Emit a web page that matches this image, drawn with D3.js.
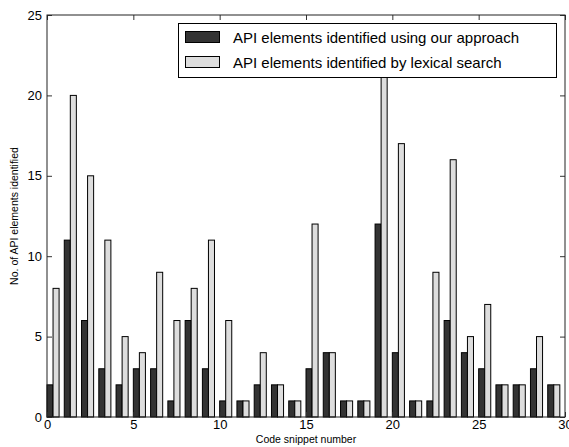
<!DOCTYPE html>
<html>
<head>
<meta charset="utf-8">
<script src="https://cdn.jsdelivr.net/npm/d3@7"></script>
<style>
body{margin:0;background:#fff;}
svg{display:block;font-family:"Liberation Sans",Arial,Helvetica,sans-serif;}
</style>
</head>
<body>
<svg id="chart" width="569" height="447"></svg>
<script>
const snippets = d3.range(30);
const ourApproach = [2,11,6,3,2,3,3,1,6,3,1,1,2,2,1,3,4,1,1,12,4,1,1,6,4,3,2,2,3,2];
const lexicalSearch = [8,20,15,11,5,4,9,6,8,11,6,1,4,2,1,12,4,1,1,23,17,1,9,16,5,7,2,2,5,2];
const seriesNames = ["API elements identified using our approach","API elements identified by lexical search"];
const xTicks = [0,5,10,15,20,25,30];
const yTicks = [0,5,10,15,20,25];

const svg = d3.select("#chart");
const L = 47, R = 565, T = 15, B = 417;
const x = d3.scaleLinear().domain([0,30]).range([L,R]);
const y = d3.scaleLinear().domain([0,25]).range([B,T]);
const barW = 0.35;
const colors = ["#333333","#dddddd"];

const g = svg.append("g");
[ourApproach, lexicalSearch].forEach((vals, s) => {
  g.selectAll(null).data(snippets).enter().append("rect")
    .attr("x", d => x(d + s*barW))
    .attr("width", x(barW) - x(0))
    .attr("y", d => y(vals[d]))
    .attr("height", d => y(0) - y(vals[d]))
    .attr("fill", colors[s])
    .attr("stroke", "#000")
    .attr("stroke-width", 1);
});

// axes
const tl = 5;
svg.append("g").attr("transform",`translate(0,${B})`)
  .call(d3.axisBottom(x).tickValues(xTicks).tickSize(-tl).tickPadding(3).tickFormat(d3.format("d")))
  .call(a=>{a.select(".domain").remove();a.selectAll("text").attr("font-size",13).attr("font-family","Liberation Sans, Arial, sans-serif");a.selectAll("line").attr("stroke","#333");});
svg.append("g").attr("transform",`translate(0,${T})`)
  .call(d3.axisTop(x).tickValues(xTicks).tickSize(-tl).tickFormat(""))
  .call(a=>{a.select(".domain").remove();a.selectAll("line").attr("stroke","#333");});
svg.append("g").attr("transform",`translate(${L},0)`)
  .call(d3.axisLeft(y).tickValues(yTicks).tickSize(-tl).tickPadding(5).tickFormat(d3.format("d")))
  .call(a=>{a.select(".domain").remove();a.selectAll("text").attr("font-size",13).attr("font-family","Liberation Sans, Arial, sans-serif");a.selectAll("line").attr("stroke","#333");});
svg.append("g").attr("transform",`translate(${R},0)`)
  .call(d3.axisRight(y).tickValues(yTicks).tickSize(-tl).tickFormat(""))
  .call(a=>{a.select(".domain").remove();a.selectAll("line").attr("stroke","#333");});

svg.append("rect").attr("x",L).attr("y",T).attr("width",R-L).attr("height",B-T)
  .attr("fill","none").attr("stroke","#222").attr("stroke-width",1);

// labels
svg.append("text").attr("x",(L+R)/2).attr("y",443).attr("text-anchor","middle")
  .attr("font-size",10.5).text("Code snippet number");
svg.append("text").attr("transform",`translate(18,${(T+B)/2}) rotate(-90)`).attr("text-anchor","middle")
  .attr("font-size",10.5).text("No. of API elements identified");

// legend
const lg = svg.append("g");
lg.append("rect").attr("x",178.5).attr("y",23.5).attr("width",378).attr("height",54)
  .attr("fill","#fff").attr("stroke","#000").attr("stroke-width",1);
seriesNames.forEach((name,i)=>{
  const yy = 31 + i*25;
  lg.append("rect").attr("x",185.5).attr("y",yy+0.5).attr("width",34).attr("height",11)
    .attr("fill",colors[i]).attr("stroke","#000");
  lg.append("text").attr("x",233).attr("y",yy+12).attr("font-size",15).text(name);
});
</script>
</body>
</html>
